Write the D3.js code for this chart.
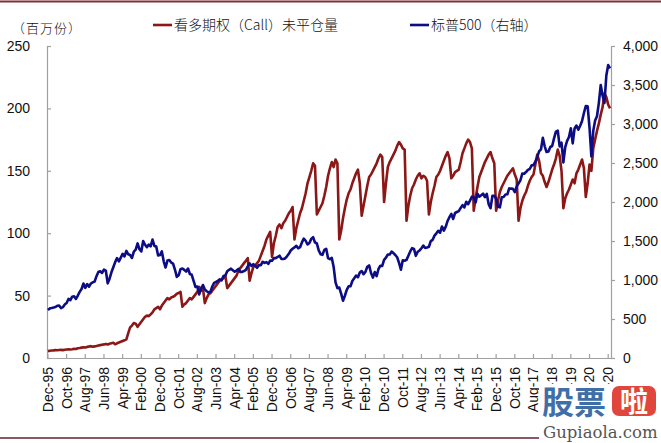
<!DOCTYPE html>
<html><head><meta charset="utf-8">
<script src="https://cdn.jsdelivr.net/npm/d3@7"></script>
<style>
body{margin:0;background:#fff;}
svg{display:block;font-family:"Liberation Sans",Arial,sans-serif;}
</style></head><body>
<svg id="chart" width="661" height="443"></svg>
<script>
// ---------- DATA ----------
const monthAbbr = ["Jan","Feb","Mar","Apr","May","Jun","Jul","Aug","Sep","Oct","Nov","Dec"];
// monthly categories Dec-95 .. Jan-21
const categories = [];
for (let i = 0; i < 302; i++) {
  const m = (11 + i) % 12, y = 1995 + Math.floor((11 + i) / 12);
  categories.push(monthAbbr[m] + "-" + String(y).slice(2));
}
const xTickLabels = ["Dec-95","Oct-96","Aug-97","Jun-98","Apr-99","Feb-00","Dec-00","Oct-01","Aug-02","Jun-03",
  "Apr-04","Feb-05","Dec-05","Oct-06","Aug-07","Jun-08","Apr-09","Feb-10","Dec-10","Oct-11","Aug-12","Jun-13",
  "Apr-14","Feb-15","Dec-15","Oct-16","Aug-17","Jun-18","Apr-19","Feb-20","Dec-20"];

// Call open interest (million contracts), left axis
const callOI = [
  5.5,
  5.8,6.0,6.1,6.3,6.2,6.4,6.5,6.3,6.6,6.8,7.0,6.8,
  7.0,7.3,7.2,7.8,8.0,8.3,8.6,8.4,8.9,9.2,9.5,9.0,
  9.3,9.6,10.0,10.3,10.6,10.9,11.3,10.8,11.4,11.8,12.2,11.0,
  11.8,12.4,13.0,13.6,14.2,15.0,20.0,24.5,26.0,28.0,27.5,25.0,
  27,29,31,33,34,33.5,35,36.5,39,40,41,39,
  42,44,46,48,47,48.5,49,50,51.5,52,53,41,
  43,44,46,48,47,49,51,53,57,54,56,44,
  48,51,52,54,56,58,60,62,63,64,66,56,
  58,60,62,64,66,70,72,74,76,78,80,62,
  68,73,74,76,78,82,86,90,95,98,101,81,
  92,98,105,107,104,108,110,113,116,118,121,95,
  104,110,116,120,126,132,140,145,150,156,154,115,
  118,121,124,130,137,146,152,157,153,159,156,95,
  102,112,120,127,132,135,140,144,148,151,140,114,
  122,130,138,145,147,150,153,156,160,163,161,125,
  140,153,157,160,163,166,170,173,171,168,167,110,
  122,130,136,139,143,146,148,144,146,145,142,115,
  125,132,138,145,147,150,154,158,162,165,160,144,
  146,149,150,151,157,164,168,172,175,173,168,118,
  128,137,145,149,153,157,160,163,165,160,156,118,
  126,133,137,140,143,146,148,150,152,147,143,110,
  120,126,130,133,138,142,145,147,155,163,158,148,
  146,141,137,141,146,151,155,160,167,162,150,120,
  128,132,135,139,143,140,148,151,155,159,152,129,
  140,155,150,168,175,182,188,195,201,212,209,203,
  200
];

// S&P 500 monthly close, right axis
const spx = [
  616,
  636,640,646,654,669,671,640,652,687,705,757,741,
  786,791,757,801,848,885,954,899,947,915,955,970,
  980,1049,1102,1112,1091,1134,1121,957,1017,1099,1164,1229,
  1280,1238,1286,1335,1302,1373,1329,1320,1283,1363,1389,1469,
  1394,1366,1499,1452,1421,1455,1431,1518,1437,1429,1315,1320,
  1366,1240,1160,1249,1256,1224,1211,1134,1041,1060,1139,1148,
  1130,1107,1147,1077,1067,990,912,916,815,886,936,880,
  856,841,848,917,964,975,990,1008,996,1051,1058,1112,
  1131,1145,1126,1107,1121,1141,1102,1104,1115,1130,1174,1212,
  1181,1204,1181,1157,1192,1191,1234,1220,1229,1207,1249,1248,
  1280,1281,1295,1311,1270,1270,1277,1304,1336,1378,1401,1418,
  1438,1407,1421,1482,1531,1503,1455,1474,1527,1549,1481,1468,
  1379,1331,1323,1386,1400,1280,1267,1283,1166,969,896,903,
  826,735,798,873,919,919,987,1021,1057,1036,1096,1115,
  1074,1104,1169,1187,1089,1031,1102,1049,1141,1183,1181,1258,
  1286,1327,1326,1364,1345,1321,1292,1219,1131,1253,1247,1258,
  1312,1366,1408,1398,1310,1362,1379,1407,1441,1412,1416,1426,
  1498,1515,1569,1598,1631,1606,1686,1633,1682,1757,1806,1848,
  1783,1859,1872,1884,1924,1960,1931,2003,1972,2018,2068,2059,
  1995,2105,2068,2086,2107,2063,2104,1972,1920,2079,2080,2044,
  1940,1932,2060,2065,2097,2099,2174,2171,2168,2126,2199,2239,
  2279,2364,2363,2384,2412,2423,2470,2472,2519,2575,2648,2674,
  2824,2714,2641,2648,2705,2718,2816,2902,2914,2712,2760,2507,
  2704,2784,2834,2946,2752,2942,2980,2926,2977,3038,3141,3231,
  3226,2954,2585,2912,3044,3100,3271,3500,3363,3270,3622,3756,
  3714
];

const leftTicks = [0,50,100,150,200,250];
const rightTicks = [0,500,1000,1500,2000,2500,3000,3500,4000];
const seriesNames = ["看多期权（Call）未平仓量","标普500（右轴）"];
const unitLabel = "（百万份）";

// ---------- CHART ----------
const svg = d3.select("#chart");
const L = 47, R = 611, T = 46, B = 358;
const redC = "#8c1717", blueC = "#0c0c85", axisC = "#a0a0a0", txtC = "#111";

// frame lines
svg.append("line").attr("x1",0).attr("x2",661).attr("y1",1.5).attr("y2",1.5)
  .attr("stroke","#7e2f3a").attr("stroke-width",2);
svg.append("line").attr("x1",0).attr("x2",661).attr("y1",438).attr("y2",438)
  .attr("stroke","#8e5563").attr("stroke-width",2);

const x = d3.scaleBand().domain(categories).range([L,R]).padding(0);
const cx = d => x(d) + x.bandwidth()/2;
const yL = d3.scaleLinear().domain([0,250]).range([B,T]);
const yR = d3.scaleLinear().domain([0,4000]).range([B,T]);

// axes
const gx = svg.append("g").attr("transform",`translate(0,${B})`)
  .call(d3.axisBottom(x).tickValues(xTickLabels).tickSize(-4).tickSizeOuter(0));
gx.selectAll("text").attr("y",0).attr("x",-9).attr("dy","0.35em")
  .attr("transform","rotate(-90)").style("text-anchor","end");

const gl = svg.append("g").attr("transform",`translate(${L},0)`)
  .call(d3.axisLeft(yL).tickValues(leftTicks).tickSize(-4).tickSizeOuter(0).tickPadding(17));
const gr = svg.append("g").attr("transform",`translate(${R},0)`)
  .call(d3.axisRight(yR).tickValues(rightTicks).tickSize(4).tickSizeOuter(0).tickPadding(8)
    .tickFormat(d3.format(",")));

[gx,gl,gr].forEach(g=>{
  g.select(".domain").attr("stroke",axisC).attr("stroke-width",1.2);
  g.selectAll(".tick line").attr("stroke",axisC).attr("stroke-width",1.2);
  g.selectAll("text").attr("fill",txtC).style("font-size","14px")
    .style("font-family",'"Liberation Sans",Arial,sans-serif');
});

// lines
const lineL = d3.line().x((d,i)=>cx(categories[i])).y(d=>yL(d));
const lineR = d3.line().x((d,i)=>cx(categories[i])).y(d=>yR(d));
svg.append("path").datum(callOI).attr("d",lineL).attr("fill","none")
  .attr("stroke",redC).attr("stroke-width",2.6).attr("stroke-linejoin","round");
svg.append("path").datum(spx).attr("d",lineR).attr("fill","none")
  .attr("stroke",blueC).attr("stroke-width",2.6).attr("stroke-linejoin","round");

// unit label
const cjk = '"Noto Sans CJK SC","Noto Sans",sans-serif';
svg.append("text").attr("x",12).attr("y",28).attr("dy","0.35em")
  .style("font-family",cjk).style("font-size","13px").style("font-weight","300")
  .style("letter-spacing","1px").attr("fill",txtC).text(unitLabel);

// legend
const leg = [{x:153,c:redC,t:seriesNames[0]},{x:410,c:blueC,t:seriesNames[1]}];
leg.forEach(l=>{
  svg.append("line").attr("x1",l.x).attr("x2",l.x+19).attr("y1",25).attr("y2",25)
    .attr("stroke",l.c).attr("stroke-width",2.6);
  svg.append("text").attr("x",l.x+21).attr("y",25).attr("dy","0.35em")
    .style("font-family",cjk).style("font-size","14px").style("font-weight","300")
    .attr("fill",txtC).text(l.t);
});

// watermark
const wm = svg.append("g");
wm.append("rect").attr("x",539).attr("y",384).attr("width",122).attr("height",59).attr("fill","#fff");
wm.append("text").attr("x",542).attr("y",414).style("font-family",cjk).style("font-weight","bold")
  .style("font-size","32px").attr("fill","#3f6fa6").text("股票");
wm.append("rect").attr("x",612).attr("y",386).attr("width",44).attr("height",30).attr("rx",7).attr("fill","#e0463c");
wm.append("text").attr("x",634).attr("y",412).attr("text-anchor","middle").style("font-family",cjk)
  .style("font-weight","bold").style("font-size","28px").attr("fill","#fff").text("啦");
wm.append("text").attr("x",543).attr("y",438).style("font-family",'"DejaVu Serif",serif')
  .style("font-size","16.5px").attr("fill","#555").text("Gupiaola.com");
</script>
</body></html>
